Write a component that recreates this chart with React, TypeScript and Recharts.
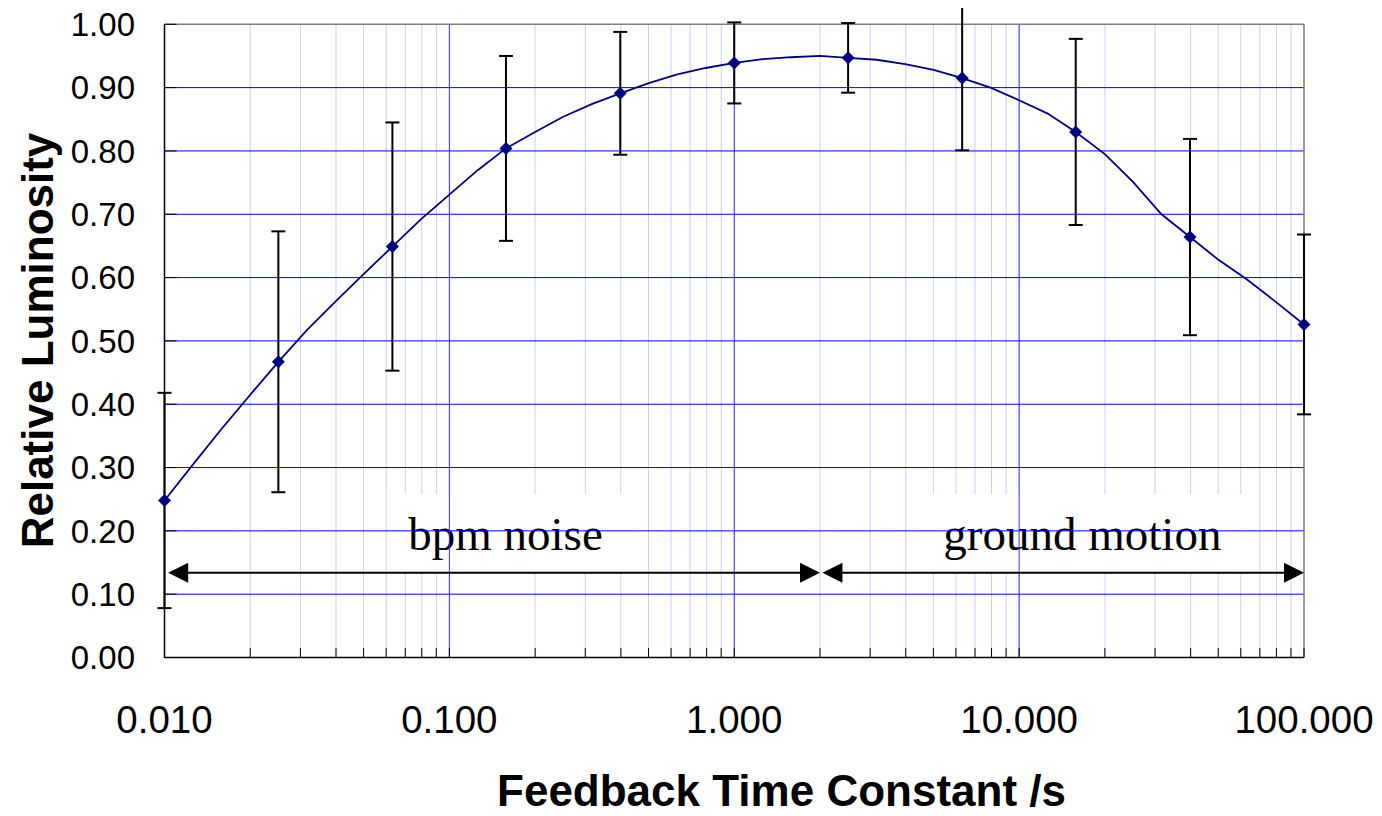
import {
  ComposedChart,
  Line,
  Scatter,
  ErrorBar,
  XAxis,
  YAxis,
  CartesianGrid,
  ReferenceLine,
  ReferenceArea,
  Label,
} from "recharts";

// smooth model curve, sampled every 0.1 decade
const fitX = [
  0.01, 0.0126, 0.0158, 0.02, 0.0251, 0.0316, 0.0398, 0.0501, 0.0631, 0.0794,
  0.1, 0.126, 0.158, 0.2, 0.251, 0.316, 0.398, 0.501, 0.631, 0.794,
  1, 1.26, 1.58, 2, 2.51, 3.16, 3.98, 5.01, 6.31, 7.94,
  10, 12.6, 15.8, 20, 25.1, 31.6, 39.8, 50.1, 63.1, 79.4, 100,
];
const fitY = [
  0.248, 0.305, 0.36, 0.415, 0.467, 0.517, 0.562, 0.606, 0.649, 0.692,
  0.731, 0.77, 0.804, 0.83, 0.854, 0.874, 0.891, 0.907, 0.921, 0.931,
  0.939, 0.945, 0.948, 0.95, 0.947, 0.944, 0.937, 0.928, 0.915, 0.9,
  0.88, 0.859, 0.83, 0.795, 0.751, 0.7, 0.664, 0.628, 0.597, 0.562, 0.526,
];

// measured points with error bars
const pointX = [0.01, 0.0251, 0.0631, 0.158, 0.398, 1, 2.51, 6.31, 15.8, 39.8, 100];
const pointY = [0.248, 0.467, 0.649, 0.804, 0.891, 0.939, 0.947, 0.915, 0.83, 0.664, 0.526];
const pointErr = [0.17, 0.206, 0.196, 0.146, 0.097, 0.064, 0.055, 0.114, 0.147, 0.155, 0.142];

const yTicks = [0, 0.1, 0.2, 0.3, 0.4, 0.5, 0.6, 0.7, 0.8, 0.9, 1];
const decadeTicks = [0.01, 0.1, 1, 10, 100];
const decadeLabels = ["0.010", "0.100", "1.000", "10.000", "100.000"];
const minorSteps = [2, 3, 4, 5, 6, 7, 8, 9];

// annotation bands and arrows
const bandLabels = ["bpm noise", "ground motion"];
const bandFrom = [0.0603, 4.52];
const bandTo = [0.411, 61.5];
const bandY = [0.135, 0.258];
const arrowFrom = [0.0103, 2.04];
const arrowTo = [2.0, 100];
const arrowY = 0.134;

const fitData = fitX.map((x, i) => ({ x, y: fitY[i] }));
const pointData = pointX.map((x, i) => ({ x, y: pointY[i], err: pointErr[i] }));
const xTicks = [
  ...decadeTicks,
  ...decadeTicks.slice(0, -1).flatMap(d => minorSteps.map(m => +(d * m).toPrecision(3))),
].sort((a, b) => a - b);

const SANS = "'Liberation Sans', Arial, sans-serif";
const SERIF = "'Liberation Serif', 'Times New Roman', serif";
const NAVY = "#000080";

function XTick({ x, y, payload }: any) {
  const i = decadeTicks.indexOf(payload.value);
  return (
    <g>
      <line x1={x} y1={y} x2={x} y2={y - 9.5} stroke="#000" strokeWidth={1} />
      {i >= 0 && (
        <text x={x} y={y + 75} textAnchor="middle" fontFamily={SANS} fontSize={38.5} fill="#000">
          {decadeLabels[i]}
        </text>
      )}
    </g>
  );
}

function YTick({ x, y, payload }: any) {
  return (
    <g>
      <line x1={x} y1={y} x2={x + 12} y2={y} stroke="#000" strokeWidth={1} />
      <text x={x - 29.5} y={y + 11.8} textAnchor="end" fontFamily={SANS} fontSize={33} fill="#000">
        {payload.value.toFixed(2)}
      </text>
    </g>
  );
}

function Diamond({ cx, cy }: any) {
  const r = 6.5;
  return <polygon points={`${cx},${cy - r} ${cx + r},${cy} ${cx},${cy + r} ${cx - r},${cy}`} fill={NAVY} />;
}

function Arrow({ x1, y1, x2 }: any) {
  const len = 20, half = 10, y = y1;
  return (
    <g>
      <line x1={x1 + 10} y1={y} x2={x2 - 10} y2={y} stroke="#000" strokeWidth={2} />
      <polygon points={`${x1},${y} ${x1 + len},${y - half} ${x1 + len},${y + half}`} fill="#000" />
      <polygon points={`${x2},${y} ${x2 - len},${y - half} ${x2 - len},${y + half}`} fill="#000" />
    </g>
  );
}

function bandShape(label: string) {
  return ({ x, y, width, height }: any) => (
    <g>
      <rect x={x} y={y} width={width} height={height} fill="#fff" />
      <text x={x + width / 2} y={y + 56} textAnchor="middle" fontFamily={SERIF} fontSize={47} fill="#000">
        {label}
      </text>
    </g>
  );
}

export default function App() {
  return (
    <div style={{ width: 1374, height: 808 }}>
      <ComposedChart
        width={1374}
        height={808}
        margin={{ top: 16.3, right: 78, bottom: 30, left: 0 }}
        style={{ overflow: "visible" }}
      >
        <CartesianGrid horizontal={false} stroke="#ccccff" strokeWidth={1} />
        <XAxis
          type="number"
          dataKey="x"
          scale="log"
          domain={[0.01, 100]}
          ticks={xTicks}
          interval={0}
          tickSize={0}
          tickMargin={0}
          tickLine={false}
          tick={<XTick />}
          axisLine={{ stroke: "#000", strokeWidth: 1.5 }}
          height={128.5}
        >
          <Label
            content={() => (
              <text x={773.5} y={798} textAnchor="middle" fontFamily={SANS} fontWeight="bold" fontSize={44} fill="#000">
                Feedback Time Constant /s
              </text>
            )}
          />
        </XAxis>
        <YAxis
          type="number"
          dataKey="y"
          domain={[0, 1]}
          allowDataOverflow
          ticks={yTicks}
          interval={0}
          tickSize={0}
          tickMargin={0}
          tickLine={false}
          tick={<YTick />}
          axisLine={{ stroke: "#000", strokeWidth: 1.5 }}
          width={156.5}
        >
          <Label
            content={() => (
              <text
                x={45}
                y={332.5}
                transform="rotate(-90, 45, 332.5)"
                textAnchor="middle"
                fontFamily={SANS}
                fontWeight="bold"
                fontSize={44}
                fill="#000"
              >
                Relative Luminosity
              </text>
            )}
          />
        </YAxis>

        {/* grid: horizontal every 0.1, darker verticals on decades */}
        {yTicks.slice(1, -1).map(v => (
          <ReferenceLine key={"h" + v} y={v} stroke="#0000ff" strokeWidth={1} />
        ))}
        {decadeTicks.slice(1, -1).map(v => (
          <ReferenceLine key={"v" + v} x={v} stroke="#3333ff" strokeWidth={1} />
        ))}
        <ReferenceLine y={1} stroke="#808080" strokeWidth={1.5} />
        <ReferenceLine x={100} stroke="#808080" strokeWidth={1.5} />

        {bandLabels.map((label, i) => (
          <ReferenceArea
            key={label}
            x1={bandFrom[i]}
            x2={bandTo[i]}
            y1={bandY[0]}
            y2={bandY[1]}
            shape={bandShape(label)}
          />
        ))}
        {arrowFrom.map((a, i) => (
          <ReferenceLine
            key={"a" + i}
            segment={[{ x: a, y: arrowY }, { x: arrowTo[i], y: arrowY }]}
            shape={<Arrow />}
          />
        ))}

        <Line
          data={fitData}
          dataKey="y"
          type="linear"
          stroke={NAVY}
          strokeWidth={1.8}
          dot={false}
          activeDot={false}
          isAnimationActive={false}
        />
        <Scatter data={pointData} dataKey="y" shape={<Diamond />} isAnimationActive={false}>
          <ErrorBar dataKey="err" direction="y" width={7} stroke="#000" strokeWidth={2} isAnimationActive={false} />
        </Scatter>
      </ComposedChart>
    </div>
  );
}
